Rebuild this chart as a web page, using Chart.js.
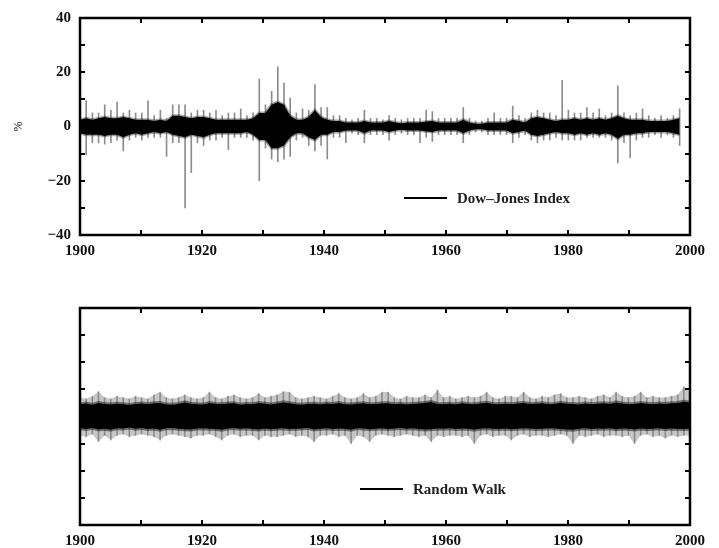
<!DOCTYPE html>
<html>
<head>
<meta charset="utf-8">
<script src="https://cdn.jsdelivr.net/npm/chart.js@4/dist/chart.umd.min.js"></script>
<style>
  html, body { margin: 0; padding: 0; background: #fff; }
  #wrap { width: 719px; height: 548px; position: relative; overflow: hidden; }
  .panel { position: absolute; left: 0; width: 719px; }
  #top { top: 0; height: 270px; }
  #bottom { top: 270px; height: 278px; }
</style>
</head>
<body>
<div id="wrap">
  <div class="panel" id="top"><canvas id="djChart" width="719" height="270"></canvas></div>
  <div class="panel" id="bottom"><canvas id="rwChart" width="719" height="278"></canvas></div>
</div>
<script>
// ---- data (one bin per year) ----
const djStart = 1900;   // Dow-Jones series, 1900..1997 (ends early in 1998)
const djSpan = 98.3;
const rwStart = 1900;   // random walk, 1900..1999
const rwSpan = 100;
const xTicks = [1900, 1920, 1940, 1960, 1980, 2000];
const yTicks = [-40, -20, 0, 20, 40];

// dark core of daily returns (%)
const djCoreHi = [
  2.5, 3, 2.5, 3, 3.5, 3, 3, 3.5, 3, 2.5,
  2.5, 2.5, 2, 2.5, 2, 4, 4, 3.5, 3, 3.5,
  3.5, 3, 2.5, 2.5, 2.5, 2.5, 2.5, 2.5, 3, 5,
  5, 8, 9, 8, 4, 2.5, 2.5, 3.5, 6, 3.5,
  2.5, 2, 2, 1.5, 1.5, 1.5, 2, 1.5, 1.5, 1.5,
  2, 1.5, 1.2, 1.5, 1.5, 1.5, 1.8, 2, 1.5, 1.5,
  1.5, 1.5, 2.5, 1.5, 1, 1, 1.5, 1.5, 1.5, 1.5,
  2.5, 2, 1.5, 3, 3.5, 3, 2.5, 2, 2.5, 2.5,
  3, 2.5, 3, 2.5, 3, 2.5, 3, 4, 3, 2.5,
  2.5, 2.5, 2, 2, 2, 2, 2.5, 3
];
const djCoreLo = [
  -2.5, -3, -3, -3, -3.5, -3, -3, -4, -3, -2.5,
  -3, -2.5, -2, -2.5, -2, -3, -3.5, -4, -3, -3.5,
  -4, -3, -2.5, -2.5, -2.5, -2.5, -2.5, -2, -3, -5,
  -5, -8, -8, -7, -4, -2.5, -2.5, -4, -5, -3,
  -3, -2, -2, -1.5, -1.5, -1.5, -2.5, -1.5, -1.5, -1.5,
  -2, -1.5, -1.2, -1.5, -1.5, -1.5, -1.8, -2, -1.5, -1.5,
  -1.5, -1.5, -2.5, -1.5, -1, -1, -1.5, -1.5, -1.5, -1.5,
  -2.5, -2, -1.5, -3, -3.5, -3, -2.5, -2, -2.5, -2.5,
  -3, -2.5, -3, -2.5, -3, -2.5, -3, -4.5, -3, -3,
  -2.5, -2.5, -2, -2, -2, -2, -2.5, -3
];
// extreme days of each year (%)
const djSpikeHi = [
  4, 9.5, 5, 5, 8, 6, 9, 5, 6, 5,
  5, 9.5, 4, 6, 3, 8, 8, 8, 5, 6,
  6, 5, 6, 4, 5, 5, 6.5, 4, 5, 17.5,
  8, 13, 22, 16, 10.5, 5, 6.5, 6, 15.5, 7,
  7, 4, 4, 3, 2.5, 3, 6, 3, 3, 2.5,
  4, 3, 2.5, 3, 3, 3, 6, 5.5, 3, 3,
  3, 3, 7, 3, 2, 2, 3, 5, 3, 3,
  7.5, 4, 3, 5, 6, 5, 5, 4, 17, 6,
  5, 5, 7, 5, 6.5, 4, 5, 15, 5, 4,
  5, 6.5, 4, 3, 4, 3, 4, 6.5
];
const djSpikeLo = [
  -4, -10.5, -6, -6, -6.5, -6, -5, -9, -5, -4,
  -5, -4, -4, -4, -11, -6, -6, -30, -17, -6,
  -7, -5, -5, -4, -8.5, -4, -4, -4, -5, -20,
  -8, -12, -13, -12, -11, -5, -4, -7, -9, -7,
  -12, -4, -4, -6, -2.5, -3, -6, -3, -3, -3,
  -5, -3, -2.5, -3, -3, -6, -4, -5.5, -3, -3,
  -3, -3, -6, -3, -2, -2, -3, -3, -3, -3,
  -6, -4, -3, -5, -6, -5, -5, -4, -5, -5,
  -5, -5, -4, -4, -4, -4, -5, -13.5, -6, -11.5,
  -5, -4, -4, -3, -4, -3, -4, -7
];

const rwCoreHi = [
  4.5, 4.8, 4.3, 5, 4.6, 4.4, 4.7, 4.5, 4.2, 4.6,
  4.8, 4.5, 4.9, 5, 4.4, 4.3, 4.6, 5.2, 4.7, 4.5,
  4.4, 5, 4.6, 4.5, 4.8, 4.9, 4.3, 4.6, 4.5, 5,
  4.7, 4.4, 4.8, 5.2, 4.9, 4.5, 4.3, 4.6, 4.7, 4.4,
  4.8, 4.6, 5, 4.5, 4.4, 4.7, 4.9, 4.5, 4.6, 4.8,
  4.9, 4.5, 4.7, 4.4, 4.6, 4.8, 5, 5.3, 4.6, 4.5,
  4.7, 4.4, 4.9, 4.6, 4.5, 4.8, 5.1, 4.6, 4.5, 4.7,
  4.5, 4.8, 5, 4.6, 4.7, 4.9, 4.5, 4.6, 5.1, 4.7,
  4.6, 4.4, 4.8, 4.5, 4.7, 4.9, 4.6, 5.2, 4.8, 4.5,
  4.6, 5, 4.7, 4.5, 4.8, 4.6, 4.9, 5, 5.4, 5.2
];
const rwCoreLo = [
  -4.3, -4.6, -4.2, -4.8, -4.5, -4.9, -4.3, -4.4, -4.1, -4.5,
  -4.2, -4.6, -4.4, -4.9, -4.3, -4.2, -4.5, -4.7, -4.8, -4.4,
  -4.3, -4.5, -4.6, -4.9, -4.4, -4.2, -4.5, -4.3, -4.6, -4.8,
  -4.4, -4.7, -4.5, -4.3, -4.6, -4.5, -4.4, -4.2, -4.8, -4.5,
  -4.3, -4.6, -4.4, -4.5, -4.9, -4.3, -4.4, -4.7, -4.5, -4.3,
  -4.6, -4.4, -4.2, -4.5, -4.3, -4.6, -4.8, -4.7, -4.4, -4.5,
  -4.3, -4.6, -4.4, -4.5, -4.9, -4.4, -4.3, -4.5, -4.6, -4.4,
  -4.7, -4.5, -4.3, -4.4, -4.6, -4.5, -4.3, -4.4, -4.6, -4.8,
  -4.9, -4.5, -4.3, -4.6, -4.4, -4.5, -4.3, -4.7, -4.4, -4.5,
  -4.8, -4.4, -4.6, -4.5, -4.3, -4.6, -4.4, -4.5, -4.6, -4.5
];
const rwSpikeHi = [
  7, 6.5, 7.5, 9.2, 7, 6.5, 7.5, 7, 6.5, 7.5,
  7, 6.5, 8, 9, 7, 6.5, 7, 8, 7, 6.5,
  7, 9, 7, 6.5, 7.5, 8, 7, 6.5, 7, 8.5,
  7, 7.5, 8, 9.2, 9, 7, 6.5, 7, 7.5, 7,
  6.5, 7.5, 8.5, 7, 6.5, 7, 8.5, 7, 7.5, 9,
  9, 7, 6.5, 7.5, 7, 7, 8, 7, 9.8, 7,
  7.5, 6.5, 7, 7.5, 7, 7.5, 9, 7, 6.5, 7.5,
  7.5, 7, 9, 7, 6.5, 7.5, 7, 8, 8.5, 7,
  7, 7.5, 7, 6.5, 7.5, 8, 7, 9, 7.5, 7,
  7.5, 9, 7, 7.5, 7, 7, 7.5, 8, 11, 9
];
const rwSpikeLo = [
  -7, -7.5, -6.5, -9.3, -7, -8.7, -7, -6.5, -7.5, -7,
  -6.5, -7, -7.5, -8.7, -7, -6.5, -7, -7.5, -8, -7,
  -7, -6.5, -7.5, -8.7, -7, -6.5, -7.5, -7, -7, -8.7,
  -7, -7.5, -7.5, -7, -6.5, -7.5, -7, -7.5, -9.3, -7,
  -7, -6.5, -7.5, -7, -10, -7, -7.5, -9.3, -7, -6.5,
  -7, -7.5, -7, -6.5, -7, -7.5, -7, -9.3, -7, -7.5,
  -7, -7, -7.5, -7, -10, -7, -6.5, -7.5, -7, -7,
  -8.7, -7, -6.5, -7.5, -7, -7, -7.5, -7, -6.5, -7,
  -10, -7, -7.5, -7, -6.5, -7.5, -7, -7, -7.5, -7,
  -10, -7, -6.5, -7.5, -7, -8, -7, -7.5, -7, -7
];

const FONT = "'Liberation Serif', 'Times New Roman', serif";
Chart.defaults.font.family = FONT;
Chart.defaults.color = '#000';

// box round the plot plus inward tick marks on all four sides
const framePlugin = {
  id: 'frame',
  afterDatasetsDraw(chart) {
    const { ctx, chartArea: a, scales } = chart;
    const len = 5;
    ctx.save();
    ctx.strokeStyle = '#000';
    ctx.lineWidth = 2;
    ctx.beginPath();
    scales.x.ticks.forEach(t => {
      const px = Math.round(scales.x.getPixelForValue(t.value));
      ctx.moveTo(px, a.bottom); ctx.lineTo(px, a.bottom - len);
      ctx.moveTo(px, a.top); ctx.lineTo(px, a.top + len);
    });
    scales.y.ticks.forEach(t => {
      const py = Math.round(scales.y.getPixelForValue(t.value));
      ctx.moveTo(a.left, py); ctx.lineTo(a.left + len, py);
      ctx.moveTo(a.right, py); ctx.lineTo(a.right - len, py);
    });
    ctx.stroke();
    ctx.lineWidth = 2.5;
    ctx.strokeRect(a.left, a.top, a.right - a.left, a.bottom - a.top);
    ctx.restore();
  }
};

// small line-sample legend inside the plot
const keyPlugin = {
  id: 'key',
  afterDraw(chart, args, opts) {
    const { ctx, chartArea: a } = chart;
    const y = a.bottom - opts.dy;
    const x = a.left + opts.dx;
    ctx.save();
    ctx.strokeStyle = '#000';
    ctx.lineWidth = 2;
    ctx.beginPath();
    ctx.moveTo(x, y); ctx.lineTo(x + 43, y);
    ctx.stroke();
    ctx.fillStyle = '#222';
    ctx.font = 'bold 15px ' + FONT;
    ctx.textBaseline = 'middle';
    ctx.fillText(opts.text, x + 53, y + 1);
    ctx.restore();
  }
};

function minus(v) { return v < 0 ? '\u2212' + Math.abs(v) : String(v); }

function makeChart(id, start, span, coreHi, coreLo, spikeHi, spikeLo, cfg) {
  // one bin per year, spread over the years the series covers
  const step = span / (coreHi.length - 1);
  const pts = arr => arr.map((v, i) => ({ x: start + i * step, y: v }));
  const spikes = spikeHi.map((v, i) => ({ x: start + i * step, y: [spikeLo[i], v] }));
  const datasets = [
    {
      type: 'bar',
      data: spikes,
      backgroundColor: cfg.spikeColor,
      barThickness: cfg.spikeWidth,
      grouped: false,
      order: 4
    },
    {
      data: pts(coreHi),
      borderColor: cfg.haloColor,
      borderWidth: cfg.halo,
      pointRadius: 0,
      fill: false,
      order: 1
    },
    {
      data: pts(coreLo),
      borderColor: cfg.haloColor,
      borderWidth: cfg.halo,
      pointRadius: 0,
      backgroundColor: '#000',
      fill: '-1',
      order: 2
    }
  ];
  if (cfg.envelope) {
    // soft grey fuzz between the yearly extremes
    datasets.push(
      { data: pts(spikeHi), borderWidth: 0, pointRadius: 0, fill: false, order: 5 },
      { data: pts(spikeLo), borderWidth: 0, pointRadius: 0, fill: '-1',
        backgroundColor: 'rgba(0,0,0,0.22)', order: 6 }
    );
  }
  return new Chart(document.getElementById(id), {
    type: 'line',
    data: { datasets },
    options: {
      responsive: false,
      animation: false,
      events: [],
      layout: { padding: { top: cfg.top, right: 29, left: 0, bottom: 0 } },
      plugins: {
        legend: { display: false },
        tooltip: { enabled: false },
        key: { text: cfg.label, dx: cfg.keyX, dy: cfg.keyY }
      },
      scales: {
        x: {
          type: 'linear',
          min: 1900, max: 2000,
          offset: false,
          grid: { display: false, drawTicks: false },
          border: { display: false },
          ticks: {
            stepSize: 10, autoSkip: false, maxRotation: 0, padding: 7,
            font: { size: 15, weight: 'bold' },
            color: '#111',
            callback: v => xTicks.includes(v) ? String(v) : ''
          },
          afterFit: s => { s.height = cfg.xHeight; }
        },
        y: {
          min: -40, max: 40,
          grid: { display: false, drawTicks: false },
          border: { display: false },
          ticks: {
            stepSize: 10, autoSkip: false, padding: 9,
            font: { size: 15, weight: 'bold' },
            color: '#111',
            callback: v => (cfg.yLabels && yTicks.includes(v)) ? minus(v) : ''
          },
          title: {
            display: cfg.yLabels,
            text: '%',
            font: { size: 12 },
            padding: { top: 12, bottom: 0 }
          },
          afterFit: s => { s.width = 80; }
        }
      }
    },
    plugins: [framePlugin, keyPlugin]
  });
}

makeChart('djChart', djStart, djSpan, djCoreHi, djCoreLo, djSpikeHi, djSpikeLo, {
  top: 17, xHeight: 35, yLabels: true,
  spikeWidth: 1, spikeColor: 'rgba(0,0,0,0.45)',
  halo: 3, haloColor: 'rgba(0,0,0,0.35)', envelope: false,
  label: 'Dow\u2013Jones Index', keyX: 324, keyY: 37
});
makeChart('rwChart', rwStart, rwSpan, rwCoreHi, rwCoreLo, rwSpikeHi, rwSpikeLo, {
  top: 38, xHeight: 23, yLabels: false,
  spikeWidth: 1, spikeColor: 'rgba(0,0,0,0.3)',
  halo: 4, haloColor: 'rgba(0,0,0,0.45)', envelope: true,
  label: 'Random Walk', keyX: 280, keyY: 36
});
</script>
</body>
</html>
